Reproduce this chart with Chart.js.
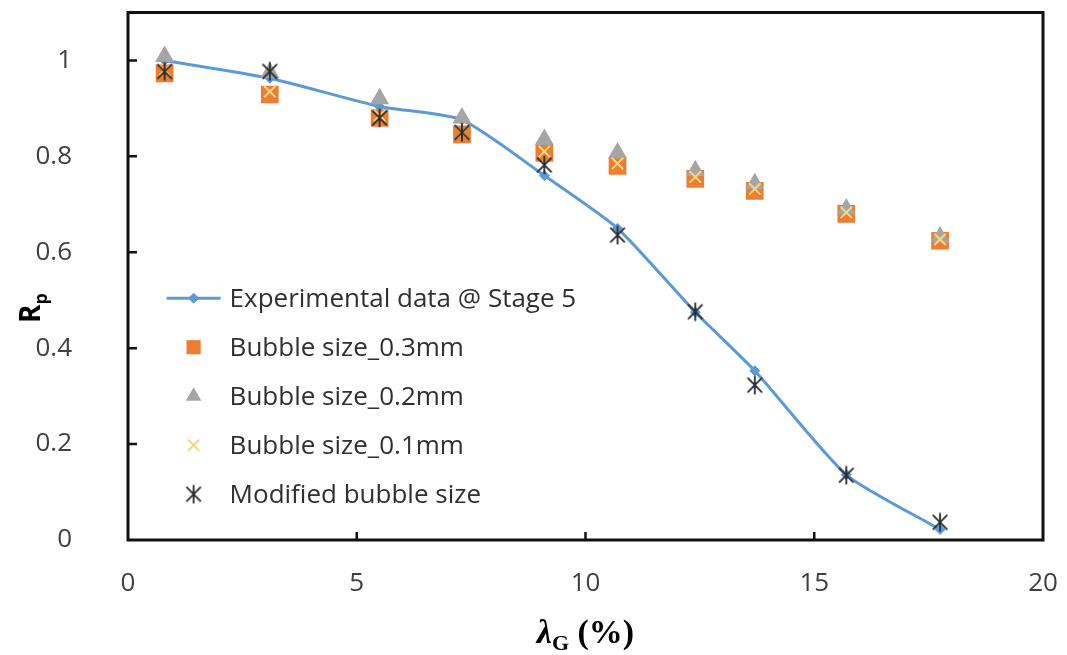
<!DOCTYPE html>
<html>
<head>
<meta charset="utf-8">
<script src="https://cdn.jsdelivr.net/npm/chart.js@4.4.0/dist/chart.umd.min.js"></script>
<style>
  html, body { margin: 0; padding: 0; background: #fff; }
  #wrap { width: 1067px; height: 655px; position: relative; }
</style>
</head>
<body>
<div id="wrap"><canvas id="rpChart"></canvas></div>
<script>
// gas volume fraction (%) at each measurement
const gasFraction = [0.8, 3.1, 5.5, 7.3, 9.1, 10.7, 12.4, 13.7, 15.7, 17.75];

const experimental = [1.0, 0.963, 0.904, 0.876, 0.76, 0.65, 0.475, 0.353, 0.136, 0.022];
const bubble03 = [0.973, 0.929, 0.88, 0.846, 0.807, 0.78, 0.753, 0.728, 0.68, 0.624];
const bubble02 = [1.008, 0.975, 0.92, 0.88, 0.835, 0.807, 0.77, 0.743, 0.69, 0.632];
const bubble01 = [0.98, 0.935, 0.885, 0.85, 0.81, 0.785, 0.757, 0.732, 0.683, 0.627];
const modified = [0.977, 0.977, 0.88, 0.85, 0.782, 0.636, 0.476, 0.323, 0.135, 0.037];

const seriesNames = [
    'Experimental data @ Stage 5',
    'Bubble size_0.3mm',
    'Bubble size_0.2mm',
    'Bubble size_0.1mm',
    'Modified bubble size'
];

const xTickValues = [0, 5, 10, 15, 20];
const yTickValues = [0, 0.2, 0.4, 0.6, 0.8, 1];

const tickFont = { family: '"Open Sans", sans-serif', size: 26 };

function toPoints(ys) {
    return gasFraction.map((x, i) => ({ x: x, y: ys[i] }));
}

// asterisk marker: an x with a vertical stroke through it
function makeAsterisk(size, color) {
    const c = document.createElement('canvas');
    c.width = size;
    c.height = size;
    const g = c.getContext('2d');
    const m = size / 2, r = size / 2 - 1.5;
    g.strokeStyle = color;
    g.lineWidth = 1.8;
    g.lineCap = 'round';
    g.beginPath();
    g.moveTo(m - r * 0.8, m - r * 0.8); g.lineTo(m + r * 0.8, m + r * 0.8);
    g.moveTo(m + r * 0.8, m - r * 0.8); g.lineTo(m - r * 0.8, m + r * 0.8);
    g.moveTo(m, m - r); g.lineTo(m, m + r);
    g.stroke();
    return c;
}
const asteriskImg = makeAsterisk(20, '#2b2b2b');

// box around the plot area plus inward tick marks
const framePlugin = {
    id: 'frame',
    afterDatasetsDraw(chart) {
        const { ctx, chartArea: a, scales } = chart;
        ctx.save();
        ctx.strokeStyle = '#111';
        ctx.lineWidth = 3;
        ctx.strokeRect(a.left, a.top, a.right - a.left, a.bottom - a.top);
        ctx.lineWidth = 2.5;
        ctx.beginPath();
        xTickValues.slice(1, -1).forEach(v => {
            const px = scales.x.getPixelForValue(v);
            ctx.moveTo(px, a.bottom);
            ctx.lineTo(px, a.bottom - 8);
        });
        yTickValues.slice(1).forEach(v => {
            const py = scales.y.getPixelForValue(v);
            ctx.moveTo(a.left, py);
            ctx.lineTo(a.left + 9, py);
        });
        ctx.stroke();
        ctx.restore();
    }
};

// legend drawn inside the plot, lower left
const legendPlugin = {
    id: 'innerLegend',
    afterDraw(chart) {
        const { ctx } = chart;
        const x0 = chart.scales.x.getPixelForValue(0.8) + 29;
        const y0 = chart.scales.y.getPixelForValue(0.5) - 2;
        const rowGap = 49;
        ctx.save();
        ctx.font = '26px "Open Sans", sans-serif';
        ctx.textBaseline = 'middle';
        chart.data.datasets.forEach((ds, i) => {
            const y = y0 + i * rowGap;
            if (ds.showLine) {
                ctx.strokeStyle = ds.borderColor;
                ctx.lineWidth = 3;
                ctx.beginPath();
                ctx.moveTo(x0 - 27, y);
                ctx.lineTo(x0 + 27, y);
                ctx.stroke();
            }
            ctx.fillStyle = ds.pointBackgroundColor;
            ctx.strokeStyle = ds.pointBorderColor;
            ctx.lineWidth = ds.pointBorderWidth;
            Chart.helpers.drawPoint(ctx, {
                pointStyle: ds.pointStyle,
                radius: ds.legendRadius,
                rotation: 0,
                borderWidth: ds.pointBorderWidth
            }, x0, y);
            ctx.fillStyle = '#303030';
            ctx.fillText(ds.label, x0 + 36, y + 1);
        });
        ctx.restore();
    }
};

// axis titles with subscripts
const titlePlugin = {
    id: 'axisTitles',
    afterDraw(chart) {
        const { ctx, chartArea: a } = chart;
        ctx.save();
        ctx.fillStyle = '#000';
        ctx.textBaseline = 'alphabetic';

        // R_p on the y axis
        ctx.translate(40, 323);
        ctx.rotate(-Math.PI / 2);
        ctx.font = 'bold 28px "Open Sans", sans-serif';
        ctx.fillText('R', 0, 0);
        const rw = ctx.measureText('R').width;
        ctx.font = 'bold 18px "Open Sans", sans-serif';
        ctx.fillText('p', rw, 7);
        ctx.setTransform(1, 0, 0, 1, 0, 0);

        // lambda_G (%) on the x axis
        const cx = (a.left + a.right) / 2;
        const base = 643;
        ctx.font = 'bold italic 34px "Liberation Serif", serif';
        const lw = ctx.measureText('λ').width;
        ctx.font = 'bold 22px "Liberation Serif", serif';
        const gw = ctx.measureText('G').width;
        ctx.font = 'bold 34px "Liberation Serif", serif';
        const pw = ctx.measureText(' (%)').width;
        let x = cx - (lw + gw + pw) / 2;
        ctx.font = 'bold italic 34px "Liberation Serif", serif';
        ctx.fillText('λ', x, base);
        x += lw;
        ctx.font = 'bold 22px "Liberation Serif", serif';
        ctx.fillText('G', x, base + 7);
        x += gw;
        ctx.font = 'bold 34px "Liberation Serif", serif';
        ctx.fillText(' (%)', x, base);
        ctx.restore();
    }
};

const ctx = document.getElementById('rpChart').getContext('2d');
new Chart(ctx, {
    type: 'scatter',
    data: {
        datasets: [
            {
                label: seriesNames[0],
                data: toPoints(experimental),
                showLine: true,
                tension: 0.2,
                borderColor: '#5b9bd5',
                borderWidth: 3,
                pointStyle: 'rectRot',
                pointRadius: 5,
                pointBackgroundColor: '#5b9bd5',
                pointBorderColor: '#5b9bd5',
                pointBorderWidth: 1,
                legendRadius: 5,
                order: 4
            },
            {
                label: seriesNames[1],
                data: toPoints(bubble03),
                pointStyle: 'rect',
                pointRadius: 12.5,
                pointBackgroundColor: '#ed7d31',
                pointBorderColor: '#ed7d31',
                pointBorderWidth: 0,
                legendRadius: 10,
                order: 3
            },
            {
                label: seriesNames[2],
                data: toPoints(bubble02),
                pointStyle: 'triangle',
                pointRadius: 11,
                pointBackgroundColor: '#a5a5a5',
                pointBorderColor: '#a5a5a5',
                pointBorderWidth: 0,
                legendRadius: 9,
                order: 2
            },
            {
                label: seriesNames[3],
                data: toPoints(bubble01),
                pointStyle: 'crossRot',
                pointRadius: 8,
                pointBackgroundColor: '#f6d77c',
                pointBorderColor: '#f6d77c',
                pointBorderWidth: 2,
                legendRadius: 8,
                order: 1
            },
            {
                label: seriesNames[4],
                data: toPoints(modified),
                pointStyle: asteriskImg,
                pointRadius: 10,
                pointBackgroundColor: '#2b2b2b',
                pointBorderColor: '#2b2b2b',
                pointBorderWidth: 0,
                legendRadius: 8,
                order: 0
            }
        ]
    },
    options: {
        responsive: true,
        maintainAspectRatio: false,
        animation: false,
        layout: { padding: { top: 12, right: 24, left: 0, bottom: 0 } },
        plugins: {
            legend: { display: false },
            tooltip: { enabled: false }
        },
        scales: {
            x: {
                type: 'linear',
                min: 0,
                max: 20,
                grid: { display: false, drawTicks: false },
                border: { display: false },
                afterBuildTicks: scale => { scale.ticks = xTickValues.map(v => ({ value: v })); },
                afterFit: scale => {
                    scale.height = 115;
                    scale.paddingLeft = 0;
                    scale.paddingRight = 0;
                },
                ticks: {
                    font: tickFont,
                    color: '#404040',
                    padding: 28,
                    callback: v => String(v)
                }
            },
            y: {
                type: 'linear',
                min: 0,
                max: 1.1,
                grid: { display: false, drawTicks: false },
                border: { display: false },
                afterBuildTicks: scale => { scale.ticks = yTickValues.map(v => ({ value: v })); },
                afterFit: scale => {
                    scale.width = 128;
                    scale.paddingTop = 0;
                    scale.paddingBottom = 0;
                },
                ticks: {
                    font: tickFont,
                    color: '#404040',
                    padding: 56,
                    callback: v => String(parseFloat(Number(v).toFixed(1)))
                }
            }
        }
    },
    plugins: [framePlugin, legendPlugin, titlePlugin]
});
</script>
</body>
</html>
